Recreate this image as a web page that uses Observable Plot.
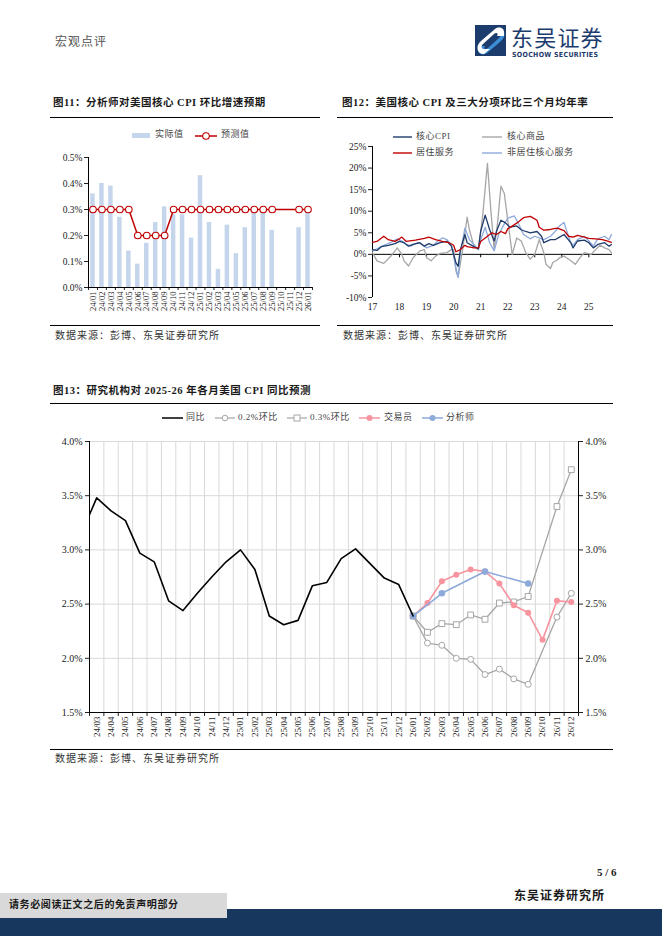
<!DOCTYPE html>
<html><head><meta charset="utf-8">
<script src="https://cdn.jsdelivr.net/npm/d3@7"></script>
<script src="https://cdn.jsdelivr.net/npm/@observablehq/plot@0.6"></script>
<style>
body{margin:0;background:#fff;}
#page{position:relative;width:662px;height:936px;overflow:hidden;font-family:"Liberation Serif","Noto Sans CJK SC",serif;color:#222;}
.abs{position:absolute;white-space:nowrap;line-height:1;}
.title{font-weight:bold;font-size:10.5px;color:#1a1a1a;letter-spacing:0.5px;}
.src{font-size:10px;color:#333;letter-spacing:1px;}
.hr{position:absolute;height:0;border-top:1px solid #000;}
.lg{font-size:9px;color:#444;letter-spacing:0.5px;}
</style></head><body>
<div id="page">
  <div class="abs" style="left:55px;top:36px;font-size:12px;color:#555;letter-spacing:1px;">宏观点评</div>
  <svg class="abs" style="left:474px;top:24px;" width="34" height="34" viewBox="0 0 34 34">
    <rect x="1" y="1" width="31" height="31" fill="#1d3c6e"/>
    <path d="M24,4 C31,4 33,12 27,17 L13,29 C9,32 4,30 4,26 L4,22 L11,22 C9,25 12,26 14,24 L25,14 C28,11 26,8 22,9 L18,9 Z" fill="#3a8fd6"/>
    <path d="M10,30 C3,30 1,22 7,17 L21,5 C25,2 30,4 30,8 L30,12 L23,12 C25,9 22,8 20,10 L9,20 C6,23 8,26 12,25 L16,25 Z" fill="#fff"/>
  </svg>
  <div class="abs" style="left:511px;top:25px;font-size:22px;line-height:22px;color:#1d3c6e;font-family:'Noto Sans CJK SC';letter-spacing:1.2px;">东吴证券</div>
  <div class="abs" style="left:512px;top:52px;font-size:7px;line-height:7px;font-weight:bold;color:#1d3c6e;font-family:'DejaVu Sans Condensed','Liberation Sans Narrow',sans-serif;letter-spacing:0.3px;">SOOCHOW SECURITIES</div>

  <div class="abs title" style="left:53px;top:98px;">图11：分析师对美国核心 CPI 环比增速预期</div>
  <div class="hr" style="left:50px;top:117px;width:270px;"></div>
  <div class="abs title" style="left:342px;top:98px;">图12：美国核心 CPI 及三大分项环比三个月均年率</div>
  <div class="hr" style="left:337px;top:117px;width:276px;"></div>

  <div id="c11" class="abs" style="left:40px;top:145px;"></div>
  <div id="c12" class="abs" style="left:330px;top:135px;"></div>

  <div class="hr" style="left:50px;top:325px;width:270px;"></div>
  <div class="abs src" style="left:55px;top:331px;">数据来源：彭博、东吴证券研究所</div>
  <div class="hr" style="left:337px;top:325px;width:276px;"></div>
  <div class="abs src" style="left:343px;top:331px;">数据来源：彭博、东吴证券研究所</div>

  <div class="abs title" style="left:53px;top:386px;">图13：研究机构对 2025-26 年各月美国 CPI 同比预测</div>
  <div class="hr" style="left:50px;top:403px;width:563px;"></div>
  <div id="c13" class="abs" style="left:40px;top:430px;"></div>
  <div class="hr" style="left:50px;top:749px;width:563px;"></div>
  <div class="abs src" style="left:55px;top:754px;">数据来源：彭博、东吴证券研究所</div>

  <div class="abs" style="left:597px;top:867px;font-size:11px;font-weight:bold;">5 / 6</div>
  <div class="abs" style="left:514px;top:890px;font-size:12px;font-weight:bold;color:#1a1a1a;letter-spacing:1px;">东吴证券研究所</div>
  <div class="abs" style="left:0;top:909px;width:662px;height:27px;background:#17375e;"></div>
  <div class="abs" style="left:0;top:893px;width:227px;height:25px;background:#d9d9d9;"></div>
  <div class="abs" style="left:9px;top:900px;font-size:10px;font-weight:bold;color:#1a1a1a;letter-spacing:0.6px;">请务必阅读正文之后的免责声明部分</div>
</div>
<script>
// ---------------- Figure 11 data ----------------
const c11Months = ["24/01","24/02","24/03","24/04","24/05","24/06","24/07","24/08","24/09","24/10","24/11","24/12","25/01","25/02","25/03","25/04","25/05","25/06","25/07","25/08","25/09","25/10","25/11","25/12","26/01"];
const c11Actual = [0.36,0.40,0.39,0.27,0.14,0.09,0.17,0.25,0.31,0.28,0.28,0.19,0.43,0.25,0.07,0.24,0.13,0.23,0.29,0.29,0.22,null,null,0.23,0.29];
const c11Forecast = [0.3,0.3,0.3,0.3,0.3,0.2,0.2,0.2,0.2,0.3,0.3,0.3,0.3,0.3,0.3,0.3,0.3,0.3,0.3,0.3,0.3,null,null,0.3,0.3];
const c11YTicks = [0,0.1,0.2,0.3,0.4,0.5];

// ---------------- Figure 12 data (x = months since Jan 2017, y = %) ----------------
const c12YearLabels = ["17","18","19","20","21","22","23","24","25"];
const c12YTicks = [-10,-5,0,5,10,15,20,25];
const c12CoreGoods = [[0,0.4],[2,-1.5],[4,-1.9],[5,-2.1],[8,-0.5],[10,0.8],[11,1.5],[13,0],[14,-1.5],[16,-2.7],[18,-0.8],[21,0.8],[23,1.1],[24,-0.8],[26,-1.5],[28,-0.4],[30,0.2],[33,0.4],[35,1.1],[36,1.1],[37,-3.8],[38,-5.3],[40,1.1],[42,8.6],[43,5.7],[45,1.9],[47,1.1],[49,9.5],[51,21.1],[52.5,10.3],[54,1.1],[55.5,7.3],[57,15.8],[58.5,14.1],[60,8.0],[62,0],[64,3.8],[66,3.1],[68,0.4],[70,-1.1],[72,0],[74,3.4],[76,0.4],[77,-2.3],[79,-3.3],[80,-1.9],[82,-1.3],[83,-0.8],[85,-0.4],[88,-1.5],[90,-2.3],[92,-0.8],[94,0.4],[97,0],[99,1.1],[101,2.1],[103,1.5],[105,1.1],[106,0.4]];
const c12NonShelter = [[0,0.8],[2,1.3],[5,2.1],[8,2.7],[11,3.6],[13,3.1],[15,2.3],[17,1.9],[20,2.7],[22,2.3],[24,1.5],[27,2.1],[29,3.1],[31,3.8],[33,3.4],[35,2.3],[37,-3.1],[38,-5.3],[39,0.4],[41,6.1],[43,3.4],[45,2.3],[47,1.1],[48,3.4],[50,6.3],[52,2.7],[54,0.8],[56,4.6],[58,6.6],[60,8.4],[63,8.9],[65,6.9],[67,4.6],[70,3.6],[72,4.2],[74,3.8],[76,3.4],[79,4.2],[81,5.3],[83,6.6],[85,7.4],[86,5.7],[88,2.7],[89,2.1],[91,3.4],[94,4.2],[96,3.1],[98,1.9],[100,3.6],[103,4.2],[105,3.4],[106,4.6]];
const c12CoreCpi = [[0,1.1],[2,0.9],[4,1.8],[7,2.1],[10,2.5],[12,3.0],[14,2.7],[16,1.9],[18,2.3],[21,2.7],[23,1.9],[25,2.5],[27,2.1],[30,2.7],[33,3.0],[35,1.9],[37,-1.9],[38,-2.8],[39,1.1],[41,4.6],[42,2.7],[45,1.8],[47,1.3],[48,5.3],[50,9.1],[52,5.7],[54,3.1],[55,5.3],[57,7.9],[59,7.3],[61,6.3],[64,6.6],[66,5.7],[68,5.3],[70,5.0],[73,5.3],[75,4.2],[76,2.7],[79,3.4],[81,3.4],[83,4.0],[85,4.6],[88,2.7],[89,1.5],[91,3.1],[94,3.3],[96,2.7],[98,1.5],[100,2.3],[103,2.7],[105,1.9],[106,2.3]];
const c12Shelter = [[0,2.8],[2,3.0],[5,4.2],[7,3.4],[10,3.0],[12,3.6],[13,4.0],[15,3.0],[19,3.3],[23,3.7],[25,4.0],[28,3.4],[31,3.0],[34,2.7],[36,2.1],[37,0.6],[39,1.1],[41,2.1],[42,1.8],[45,1.5],[47,1.5],[48,3.0],[51,4.2],[53,5.0],[55,4.6],[57,5.3],[59,4.8],[60,5.9],[63,6.9],[65,7.6],[67,8.5],[70,8.8],[71,8.5],[73,7.9],[74,6.3],[76,5.6],[78,5.7],[80,5.9],[82,6.1],[85,5.5],[87,4.2],[89,4.0],[91,4.4],[94,4.0],[96,3.7],[99,3.6],[102,3.4],[104,3.1],[106,2.8]];

// ---------------- Figure 13 data ----------------
const c13Months = ["24/02","24/03","24/04","24/05","24/06","24/07","24/08","24/09","24/10","24/11","24/12","25/01","25/02","25/03","25/04","25/05","25/06","25/07","25/08","25/09","25/10","25/11","25/12","26/01","26/02","26/03","26/04","26/05","26/06","26/07","26/08","26/09","26/10","26/11","26/12"];
const c13Yoy = [3.17,3.48,3.36,3.27,2.97,2.89,2.53,2.44,2.60,2.75,2.89,3.00,2.82,2.39,2.31,2.35,2.67,2.70,2.92,3.01,null,2.74,2.68,2.39];
const c13FcMonths = ["26/01","26/02","26/03","26/04","26/05","26/06","26/07","26/08","26/09","26/10","26/11","26/12"];
const c13Mom02 = [2.39,2.14,2.12,2.00,1.99,1.85,1.90,1.81,1.76,null,2.38,2.60];
const c13Mom03 = [2.39,2.24,2.32,2.31,2.40,2.36,2.51,2.52,2.57,null,3.40,3.74];
const c13Trader = [2.39,2.51,2.71,2.77,2.82,2.80,2.69,2.49,2.42,2.17,2.53,2.52];
const c13Analyst = [2.39,null,2.60,null,null,2.80,null,null,2.69,null,null,null];
const c13YTicks = [1.5,2.0,2.5,3.0,3.5,4.0];

// ---------------- colours ----------------
const BAR_BLUE = "#c5d6ec", RED = "#c00000", NAVY = "#1f3b6b", GRAY = "#a6a6a6", LBLUE = "#8eaadb", PINK = "#f7949f", GRID = "#d9d9d9";
const FONT = "'Liberation Serif','Noto Sans CJK SC',serif";

// ---------------- Figure 11 ----------------
{
  const rows = c11Months.map((m, i) => ({i, m, a: c11Actual[i], f: c11Forecast[i]}));
  const bars = rows.filter(d => d.a != null);
  const fc = rows.filter(d => d.f != null);
  const idx = rows.map(d => d.i);
  const bounds = d3.range(-0.5, c11Months.length, 1);
  const p = Plot.plot({
    width: 280, height: 180, marginLeft: 48, marginRight: 8, marginTop: 12, marginBottom: 38,
    x: {domain: [-0.5, c11Months.length - 0.5]},
    y: {domain: [0, 0.5]},
    style: {fontFamily: FONT, fontSize: "9px", color: "#222", background: "transparent", overflow: "visible"},
    marks: [
      Plot.rectY(bars, {x1: d => d.i - 0.25, x2: d => d.i + 0.25, y: "a", fill: BAR_BLUE}),
      Plot.axisY({ticks: c11YTicks, tickFormat: d => d.toFixed(1) + "%", tickSize: 4, tickPadding: 2, fontSize: 9.5, label: null}),
      Plot.axisX({ticks: idx, tickFormat: i => c11Months[i], tickRotate: -90, tickSize: 0, tickPadding: 4, fontSize: 8.5, label: null}),
      Plot.axisX({ticks: bounds, tickFormat: () => "", tickSize: 3, label: null}),
      Plot.ruleX([-0.5], {stroke: "#000"}),
      Plot.ruleY([0], {stroke: "#000"}),
      Plot.line(fc, {x: "i", y: "f", stroke: RED, strokeWidth: 1.5}),
      Plot.dot(fc, {x: "i", y: "f", r: 3.3, fill: "#fff", stroke: RED, strokeWidth: 1.1})
    ]
  });
  document.getElementById("c11").appendChild(p);
}

// ---------------- Figure 12 ----------------
{
  const toRows = (arr, k) => arr.map(([m, v]) => ({m, v, k}));
  const yearPos = c12YearLabels.map((_, i) => i * 12);
  const p = Plot.plot({
    width: 290, height: 185, marginLeft: 42, marginRight: 8, marginTop: 11, marginBottom: 23,
    x: {domain: [0, 106.5]},
    y: {domain: [-10, 25]},
    style: {fontFamily: FONT, fontSize: "9.5px", color: "#222", background: "transparent", overflow: "visible"},
    marks: [
      Plot.axisY({ticks: c12YTicks, tickFormat: d => d + "%", tickSize: 4, tickPadding: 2, label: null}),
      Plot.axisX({ticks: yearPos, tickFormat: d => c12YearLabels[Math.round(d / 12)], tickSize: 0, tickPadding: 6, label: null}),
      Plot.ruleX([0], {stroke: "#000"}),
      Plot.ruleY([0], {stroke: "#000"}),
      Plot.ruleX(yearPos.slice(1), {y1: 0, y2: -0.8, stroke: "#000"}),
      Plot.line(toRows(c12CoreGoods, "g"), {x: "m", y: "v", stroke: GRAY, strokeWidth: 1.3}),
      Plot.line(toRows(c12NonShelter, "n"), {x: "m", y: "v", stroke: LBLUE, strokeWidth: 1.3}),
      Plot.line(toRows(c12CoreCpi, "c"), {x: "m", y: "v", stroke: NAVY, strokeWidth: 1.3}),
      Plot.line(toRows(c12Shelter, "s"), {x: "m", y: "v", stroke: RED, strokeWidth: 1.3})
    ]
  });
  document.getElementById("c12").appendChild(p);
}

// ---------------- Figure 13 ----------------
{
  const pos = m => c13Months.indexOf(m) - 1;
  const yoy = c13Yoy.map((v, i) => ({x: pos(c13Months[i]), v})).filter(d => d.v != null);
  const fcRows = arr => c13FcMonths.map((m, i) => ({x: pos(m), v: arr[i], first: i === 0})).filter(d => d.v != null);
  const m02 = fcRows(c13Mom02), m03 = fcRows(c13Mom03), tr = fcRows(c13Trader), an = fcRows(c13Analyst);
  const n = c13Months.length - 1;
  const idx = d3.range(0, n);
  const bounds = d3.range(-0.5, n, 1);
  const inner = bounds.slice(1);
  const p = Plot.plot({
    width: 610, height: 320, marginLeft: 49, marginRight: 72, marginTop: 11, marginBottom: 38,
    x: {domain: [-0.5, n - 0.5]},
    y: {domain: [1.5, 4.0]},
    style: {fontFamily: FONT, fontSize: "10px", color: "#222", background: "transparent", overflow: "visible"},
    marks: [
      Plot.ruleY(c13YTicks.slice(1), {stroke: GRID}),
      Plot.ruleX(inner, {stroke: GRID}),
      Plot.axisY({anchor: "left", ticks: c13YTicks, tickFormat: d => d.toFixed(1) + "%", tickSize: 4, tickPadding: 3, label: null}),
      Plot.axisY({anchor: "right", ticks: c13YTicks, tickFormat: d => d.toFixed(1) + "%", tickSize: 4, tickPadding: 3, label: null}),
      Plot.axisX({ticks: idx, tickFormat: i => c13Months[i + 1], tickRotate: -90, tickSize: 0, tickPadding: 4, fontSize: 9, label: null}),
      Plot.axisX({ticks: bounds, tickFormat: () => "", tickSize: 4, label: null}),
      Plot.ruleX([-0.5, n - 0.5], {stroke: "#000"}),
      Plot.ruleY([1.5], {stroke: "#000"}),
      Plot.line(m02, {x: "x", y: "v", stroke: GRAY, strokeWidth: 1.3}),
      Plot.line(m03, {x: "x", y: "v", stroke: GRAY, strokeWidth: 1.3}),
      Plot.dot(m02, {x: "x", y: "v", r: 3, fill: "#fff", stroke: GRAY, strokeWidth: 1}),
      Plot.dot(m03, {x: "x", y: "v", r: 3.3, symbol: "square", fill: "#fff", stroke: GRAY, strokeWidth: 1}),
      Plot.line(tr, {x: "x", y: "v", stroke: PINK, strokeWidth: 1.6}),
      Plot.dot(tr, {x: "x", y: "v", r: 3, fill: PINK}),
      Plot.line(an, {x: "x", y: "v", stroke: LBLUE, strokeWidth: 1.6}),
      Plot.dot(an, {x: "x", y: "v", r: 3.3, fill: LBLUE, symbol: d => d.first ? "square" : "circle"}),
      Plot.line(yoy, {x: "x", y: "v", stroke: "#000", strokeWidth: 1.6, clip: true})
    ]
  });
  document.getElementById("c13").appendChild(p);
}

// ---------------- legends (HTML/SVG) ----------------
{
  const page = document.getElementById("page");
  const add = html => page.insertAdjacentHTML("beforeend", html);
  const sw = (left, top, w, h, inner) => add(`<svg class="abs" style="left:${left}px;top:${top}px;overflow:visible" width="${w}" height="${h}">${inner}</svg>`);
  const txt = (left, top, s) => add(`<div class="abs lg" style="left:${left}px;top:${top}px;">${s}</div>`);
  // Fig 11
  sw(132, 133, 18, 6, `<rect x="0" y="0" width="18" height="5" fill="${BAR_BLUE}"/>`);
  txt(155, 130, "实际值");
  sw(195, 131, 22, 10, `<line x1="0" y1="5" x2="22" y2="5" stroke="${RED}" stroke-width="1.5"/><circle cx="11" cy="5" r="3.3" fill="#fff" stroke="${RED}" stroke-width="1.1"/>`);
  txt(221, 130, "预测值");
  // Fig 12
  sw(393, 132, 19, 10, `<line x1="0" y1="5" x2="19" y2="5" stroke="${NAVY}" stroke-width="1.4"/>`);
  txt(416, 132, "核心CPI");
  sw(482, 132, 20, 10, `<line x1="0" y1="5" x2="20" y2="5" stroke="${GRAY}" stroke-width="1.4"/>`);
  txt(507, 132, "核心商品");
  sw(393, 148, 19, 10, `<line x1="0" y1="5" x2="19" y2="5" stroke="${RED}" stroke-width="1.4"/>`);
  txt(416, 148, "居住服务");
  sw(482, 148, 20, 10, `<line x1="0" y1="5" x2="20" y2="5" stroke="${LBLUE}" stroke-width="1.4"/>`);
  txt(507, 148, "非居住核心服务");
  // Fig 13
  sw(162, 413, 21, 10, `<line x1="0" y1="5" x2="21" y2="5" stroke="#000" stroke-width="1.5"/>`);
  txt(186, 413, "同比");
  sw(215, 413, 20, 10, `<line x1="0" y1="5" x2="20" y2="5" stroke="${GRAY}" stroke-width="1.2"/><circle cx="10" cy="5" r="2.8" fill="#fff" stroke="${GRAY}"/>`);
  txt(238, 413, "0.2%环比");
  sw(287, 413, 20, 10, `<line x1="0" y1="5" x2="20" y2="5" stroke="${GRAY}" stroke-width="1.2"/><rect x="7" y="2" width="6" height="6" fill="#fff" stroke="${GRAY}"/>`);
  txt(310, 413, "0.3%环比");
  sw(359, 413, 21, 10, `<line x1="0" y1="5" x2="21" y2="5" stroke="${PINK}" stroke-width="1.5"/><circle cx="10.5" cy="5" r="3" fill="${PINK}"/>`);
  txt(384, 413, "交易员");
  sw(422, 413, 21, 10, `<line x1="0" y1="5" x2="21" y2="5" stroke="${LBLUE}" stroke-width="1.5"/><circle cx="10.5" cy="5" r="3" fill="${LBLUE}"/>`);
  txt(446, 413, "分析师");
}
</script>
</body></html>
